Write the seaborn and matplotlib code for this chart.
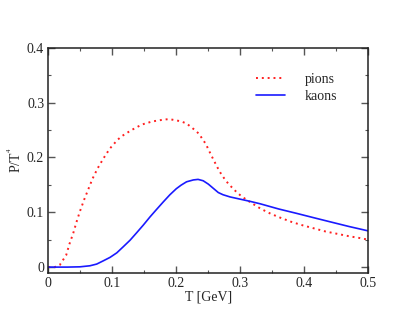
import numpy as np
import pandas as pd
import matplotlib
matplotlib.use("Agg")
import matplotlib.pyplot as plt
import seaborn as sns
from matplotlib.ticker import MultipleLocator, FuncFormatter

# values
pion_T = [0.0, 0.010, 0.018, 0.028, 0.033, 0.039, 0.044, 0.0495, 0.056, 0.0625,
          0.069, 0.077, 0.086, 0.096, 0.108, 0.115, 0.130, 0.146, 0.1625, 0.180,
          0.189, 0.198, 0.207, 0.216, 0.2225, 0.229, 0.236, 0.241, 0.246, 0.250,
          0.254, 0.258, 0.262, 0.266, 0.271, 0.276, 0.281, 0.2875, 0.294, 0.301,
          0.309, 0.316, 0.332, 0.3475, 0.364, 0.381, 0.398, 0.4156, 0.433, 0.451,
          0.469, 0.4866, 0.5]
pion_P = [0.0, 0.0, 0.004, 0.022, 0.042, 0.062, 0.082, 0.102, 0.123, 0.142,
          0.161, 0.180, 0.198, 0.216, 0.232, 0.239, 0.250, 0.260, 0.2657, 0.269,
          0.270, 0.268, 0.266, 0.262, 0.256, 0.250, 0.2425, 0.233, 0.225, 0.215,
          0.2055, 0.196, 0.187, 0.178, 0.168, 0.160, 0.1525, 0.1446, 0.137, 0.130,
          0.1234, 0.118, 0.1064, 0.0973, 0.0894, 0.082, 0.076, 0.0705, 0.065, 0.0608,
          0.0565, 0.053, 0.050]

kaon_T = [0.0, 0.030, 0.0495, 0.065, 0.0756, 0.086, 0.0964, 0.107, 0.117, 0.1277,
          0.138, 0.1484, 0.159, 0.169, 0.1797, 0.190, 0.200, 0.2075, 0.216, 0.2266,
          0.234, 0.242, 0.250, 0.258, 0.2656, 0.273, 0.284, 0.2995, 0.315, 0.331,
          0.360, 0.388, 0.415, 0.440, 0.470, 0.5]
kaon_P = [0.0, 0.0, 0.0005, 0.0024, 0.0055, 0.0115, 0.0177, 0.026, 0.037, 0.049,
          0.0626, 0.0766, 0.0917, 0.105, 0.119, 0.132, 0.143, 0.1495, 0.1556, 0.159,
          0.160, 0.1575, 0.1514, 0.1435, 0.136, 0.132, 0.128, 0.124, 0.120, 0.1155,
          0.106, 0.098, 0.090, 0.0827, 0.074, 0.066]

sns.set_style("ticks")
plt.rcParams['font.family'] = ['Liberation Serif', 'DejaVu Serif']
plt.rcParams['mathtext.fontset'] = 'custom'
plt.rcParams['mathtext.rm'] = 'Liberation Serif'
plt.rcParams['mathtext.it'] = 'Liberation Serif:italic'

fig = plt.figure(figsize=(4.15, 3.21), dpi=100)
ax = fig.add_axes([0.1164, 0.150, 0.7711, 0.701])

pions = pd.DataFrame({"T": pion_T, "P": pion_P})
kaons = pd.DataFrame({"T": kaon_T, "P": kaon_P})

sns.lineplot(data=pions, x="T", y="P", ax=ax, color="#ff2020", lw=1.4,
             linestyle=(0, (1, 2)), label="pions")
sns.lineplot(data=kaons, x="T", y="P", ax=ax, color="#1a1aff", lw=1.2,
             label="kaons")

ax.set_xlim(0, 0.5)
ax.set_ylim(-0.0105, 0.4)
ax.xaxis.set_major_locator(MultipleLocator(0.1))
ax.xaxis.set_minor_locator(MultipleLocator(0.05))
ax.yaxis.set_major_locator(MultipleLocator(0.1))
ax.yaxis.set_minor_locator(MultipleLocator(0.05))
fmt = FuncFormatter(lambda v, p: "%g" % round(v, 3))
ax.xaxis.set_major_formatter(fmt)
ax.yaxis.set_major_formatter(fmt)
ax.tick_params(which="both", direction="in", top=True, right=True,
               labelsize=10, color="#555555")
ax.tick_params(which="major", length=5, width=1, pad=3)
ax.tick_params(which="minor", length=2.5, width=0.8)
for s in ax.spines.values():
    s.set_linewidth(1.1)
    s.set_color("#222222")

ax.set_xlabel("T [GeV]", fontsize=10, labelpad=0)
ax.set_ylabel("P/T$^{^4}$", fontsize=10, labelpad=2)

ax.legend(loc="center left", bbox_to_anchor=(0.649, 0.822), frameon=False,
          fontsize=10, handlelength=2.1, handletextpad=1.4, labelspacing=0.25,
          borderpad=0, borderaxespad=0)

fig.savefig("out.png", dpi=100)
